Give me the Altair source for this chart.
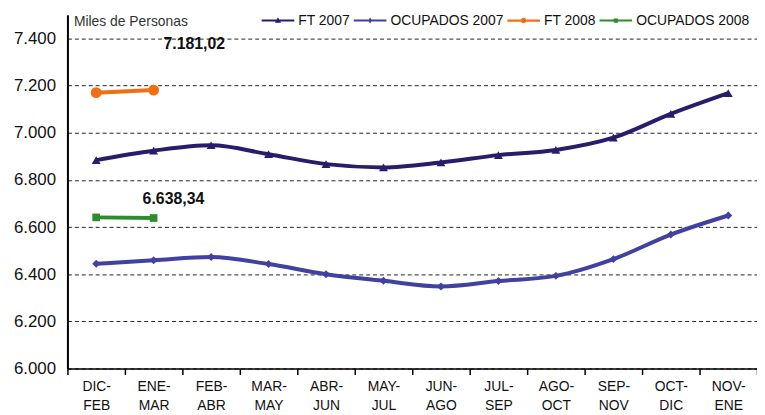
import altair as alt
import pandas as pd

periods = ["DIC-FEB", "ENE-MAR", "FEB-ABR", "MAR-MAY", "ABR-JUN", "MAY-JUL",
           "JUN-AGO", "JUL-SEP", "AGO-OCT", "SEP-NOV", "OCT-DIC", "NOV-ENE"]
ft_2007 = [6884, 6924, 6947, 6909, 6867, 6853, 6874, 6905, 6927, 6979, 7080, 7168]
ocup_2007 = [6444, 6459, 6473, 6443, 6400, 6372, 6348, 6371, 6393, 6464, 6568, 6649]
ft_2008 = [7170, 7181.02]
ocup_2008 = [6641, 6638.34]
series_names = ["FT 2007", "OCUPADOS 2007", "FT 2008", "OCUPADOS 2008"]
series_colors = ["#2B1B6B", "#4141A0", "#F06E14", "#2E8B2E"]
ann_labels = ["7.181,02", "6.638,34"]
y_ticks = [6000, 6200, 6400, 6600, 6800, 7000, 7200, 7400]

rows = []
for name, vals in zip(series_names, [ft_2007, ocup_2007, ft_2008, ocup_2008]):
    for p, v in zip(periods, vals):
        rows.append({"period": p, "value": v, "series": name})
df = pd.DataFrame(rows)

FONT = "Liberation Sans"

x_enc = alt.X("period:N", sort=periods, title=None,
              scale=alt.Scale(domain=periods, paddingInner=0, paddingOuter=0),
              axis=alt.Axis(labelAngle=0, tickBand="extent", tickSize=6,
                            labelExpr="datum.value ? [split(datum.value, '-')[0] + '-', split(datum.value, '-')[1]] : ''",
                            labelFont=FONT, labelFontSize=14, labelLineHeight=19,
                            labelColor="#111", labelPadding=5,
                            domainColor="#000", domainWidth=1.5,
                            tickColor="#000", tickWidth=1.5, grid=False))
y_enc = alt.Y("value:Q", title="Miles de Personas",
              scale=alt.Scale(domain=[6000, 7500], nice=False, zero=False),
              axis=alt.Axis(values=y_ticks, ticks=False, labelPadding=12,
                            labelExpr="replace(format(datum.value, ','), ',', '.')",
                            labelFont=FONT, labelFontSize=17, labelColor="#111",
                            domainColor="#000", domainWidth=2,
                            grid=True, gridColor="#222", gridDash=[4, 3], gridWidth=1,
                            titleAngle=0, titleX=6, titleY=7, titleAlign="left",
                            titleBaseline="middle", titleFont=FONT, titleFontSize=14,
                            titleFontWeight="normal", titleColor="#333"))

color_scale = alt.Scale(domain=series_names, range=series_colors)

base = alt.Chart(df)

lines = base.mark_line(strokeWidth=4, interpolate="monotone").encode(
    x=x_enc, y=y_enc,
    color=alt.Color("series:N", scale=color_scale, legend=None))

shapes = ["triangle-up", "diamond", "circle", "square"]
sizes = [80, 65, 120, 60]
point_layers = []
for name, shp, sz in zip(series_names, shapes, sizes):
    point_layers.append(
        base.transform_filter(alt.datum.series == name).mark_point(
            filled=True, shape=shp, size=sz, opacity=1).encode(
            x=x_enc, y=y_enc,
            color=alt.Color("series:N", scale=color_scale, legend=None)))

legend_paths = [
    "M-1,-0.06H1V0.06H-1Z M0,-0.2L0.19,0.14H-0.19Z",
    "M-1,-0.06H1V0.06H-1Z M0,-0.18L0.12,0L0,0.18L-0.12,0Z",
    "M-1,-0.07H1V0.07H-1Z M0.17,0A0.17,0.17 0 1,1 -0.17,0A0.17,0.17 0 1,1 0.17,0Z",
    "M-1,-0.06H1V0.06H-1Z M-0.13,-0.13H0.13V0.13H-0.13Z",
]
leg = alt.Legend(title=None, orient="none", direction="horizontal",
                 legendX=196, legendY=-11,
                 symbolSize=1089, symbolOpacity=1, symbolStrokeWidth=0,
                 labelFont=FONT, labelFontSize=14, labelColor="#111",
                 labelOffset=4, columnPadding=3, padding=0)
carrier = base.mark_point(filled=True, opacity=0, size=1).encode(
    x=x_enc, y=y_enc,
    color=alt.Color("series:N", scale=color_scale, legend=leg),
    shape=alt.Shape("series:N", scale=alt.Scale(domain=series_names, range=legend_paths),
                    legend=leg))

ann_df = pd.DataFrame({"period": ["ENE-MAR", "ENE-MAR"],
                       "value": [ft_2008[1], ocup_2008[1]],
                       "label": ann_labels})
ann1 = alt.Chart(ann_df.iloc[[0]]).mark_text(
    font=FONT, fontSize=16, fontWeight="bold", color="#111",
    dx=41, dy=-46).encode(x=x_enc, y=y_enc, text="label:N")
ann2 = alt.Chart(ann_df.iloc[[1]]).mark_text(
    font=FONT, fontSize=16, fontWeight="bold", color="#111",
    dx=20, dy=-19).encode(x=x_enc, y=y_enc, text="label:N")

chart = alt.layer(lines, *point_layers, carrier, ann1, ann2).resolve_scale(
    color="independent", shape="independent"
).resolve_legend(color="independent", shape="independent").properties(
    width=696, height=357,
    autosize=alt.AutoSizeParams(type="none"),
    padding={"left": 60, "top": 5, "right": 0, "bottom": 46},
    background="white",
).configure_view(stroke=None)

chart.save("out.html", embed_options={"renderer": "svg", "actions": False})
